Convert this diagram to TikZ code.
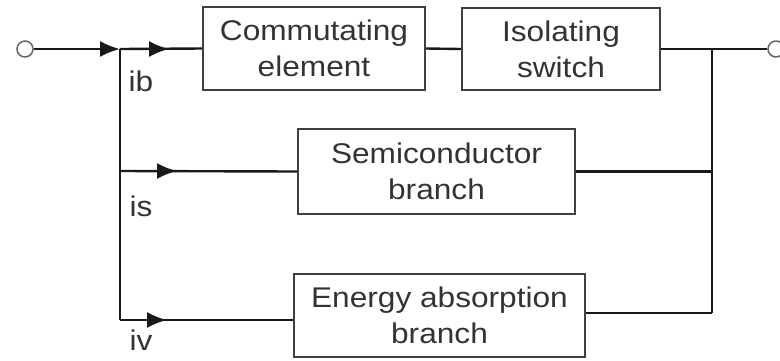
\documentclass[tikz,border=0pt]{standalone}
\usepackage{fontspec}
\setmainfont[FakeStretch=1.11]{Liberation Sans}
\usetikzlibrary{arrows.meta}

\begin{document}
\begin{tikzpicture}[x = 1pt, y = -1pt, line width = 2pt,
    every node/.style = {font = \fontsize{28.5}{36}\selectfont, text = black!80},
    block/.style = {draw = black!75, rectangle, inner sep = 0pt, align = center},
    term/.style = {draw = black!60, circle, minimum size = 16pt, inner sep = 0pt, line width = 1.5pt},
    wire/.style = {draw = black!90, line width = 2.4pt},
    flow/.style = {wire, -{Latex[length = 20pt, width = 16pt]}}]
    \useasboundingbox (0,0) rectangle (780,360);

    % terminals and junctions
    \node[term] (in) at (25,49) {};
    \node[term] (out) at (776,49) {};
    \coordinate (jl) at (120,49);
    \coordinate (js) at (120,171);
    \coordinate (jv) at (120,320);
    \coordinate (jr) at (712,49);
    \coordinate (kv) at (712,313);

    % branches
    \node[block, minimum width = 222pt, minimum height = 83pt] (comm) at (314,48.5)
        {Commutating\\element};
    \node[block, minimum width = 198pt, minimum height = 82pt] (iso) at (561,49)
        {Isolating\\switch};
    \node[block, minimum width = 277pt, minimum height = 85pt] (semi) at (436.5,171.5)
        {Semiconductor\\branch};
    \node[block, minimum width = 291pt, minimum height = 83pt] (en) at (439.5,315.5)
        {Energy absorption\\branch};

    % currents
    \node (ib) at (141,81) {ib};
    \node (is) at (141,206) {is};
    \node (iv) at (141,340) {iv};

    % wiring
    \draw[flow] (in) -- (jl);
    \draw[wire] (jl) -- (comm.west);
    \draw[flow] (jl) -- ++(49,0);
    \draw[wire] (comm.east) -- (iso.west);
    \draw[wire] (iso.east) -- (out);
    \draw[wire] (jl) -- (jv);
    \draw[wire] (js) -- (semi.west);
    \draw[flow] (js) -- ++(57,0);
    \draw[wire] (jv) -- (jv -| en.west);
    \draw[flow] (jv) -- ++(47,0);
    \draw[wire] (jr) -- (kv);
    \draw[wire] (semi.east) -- (semi.east -| jr);
    \draw[wire] (en.east |- kv) -- (kv);
\end{tikzpicture}
\end{document}
